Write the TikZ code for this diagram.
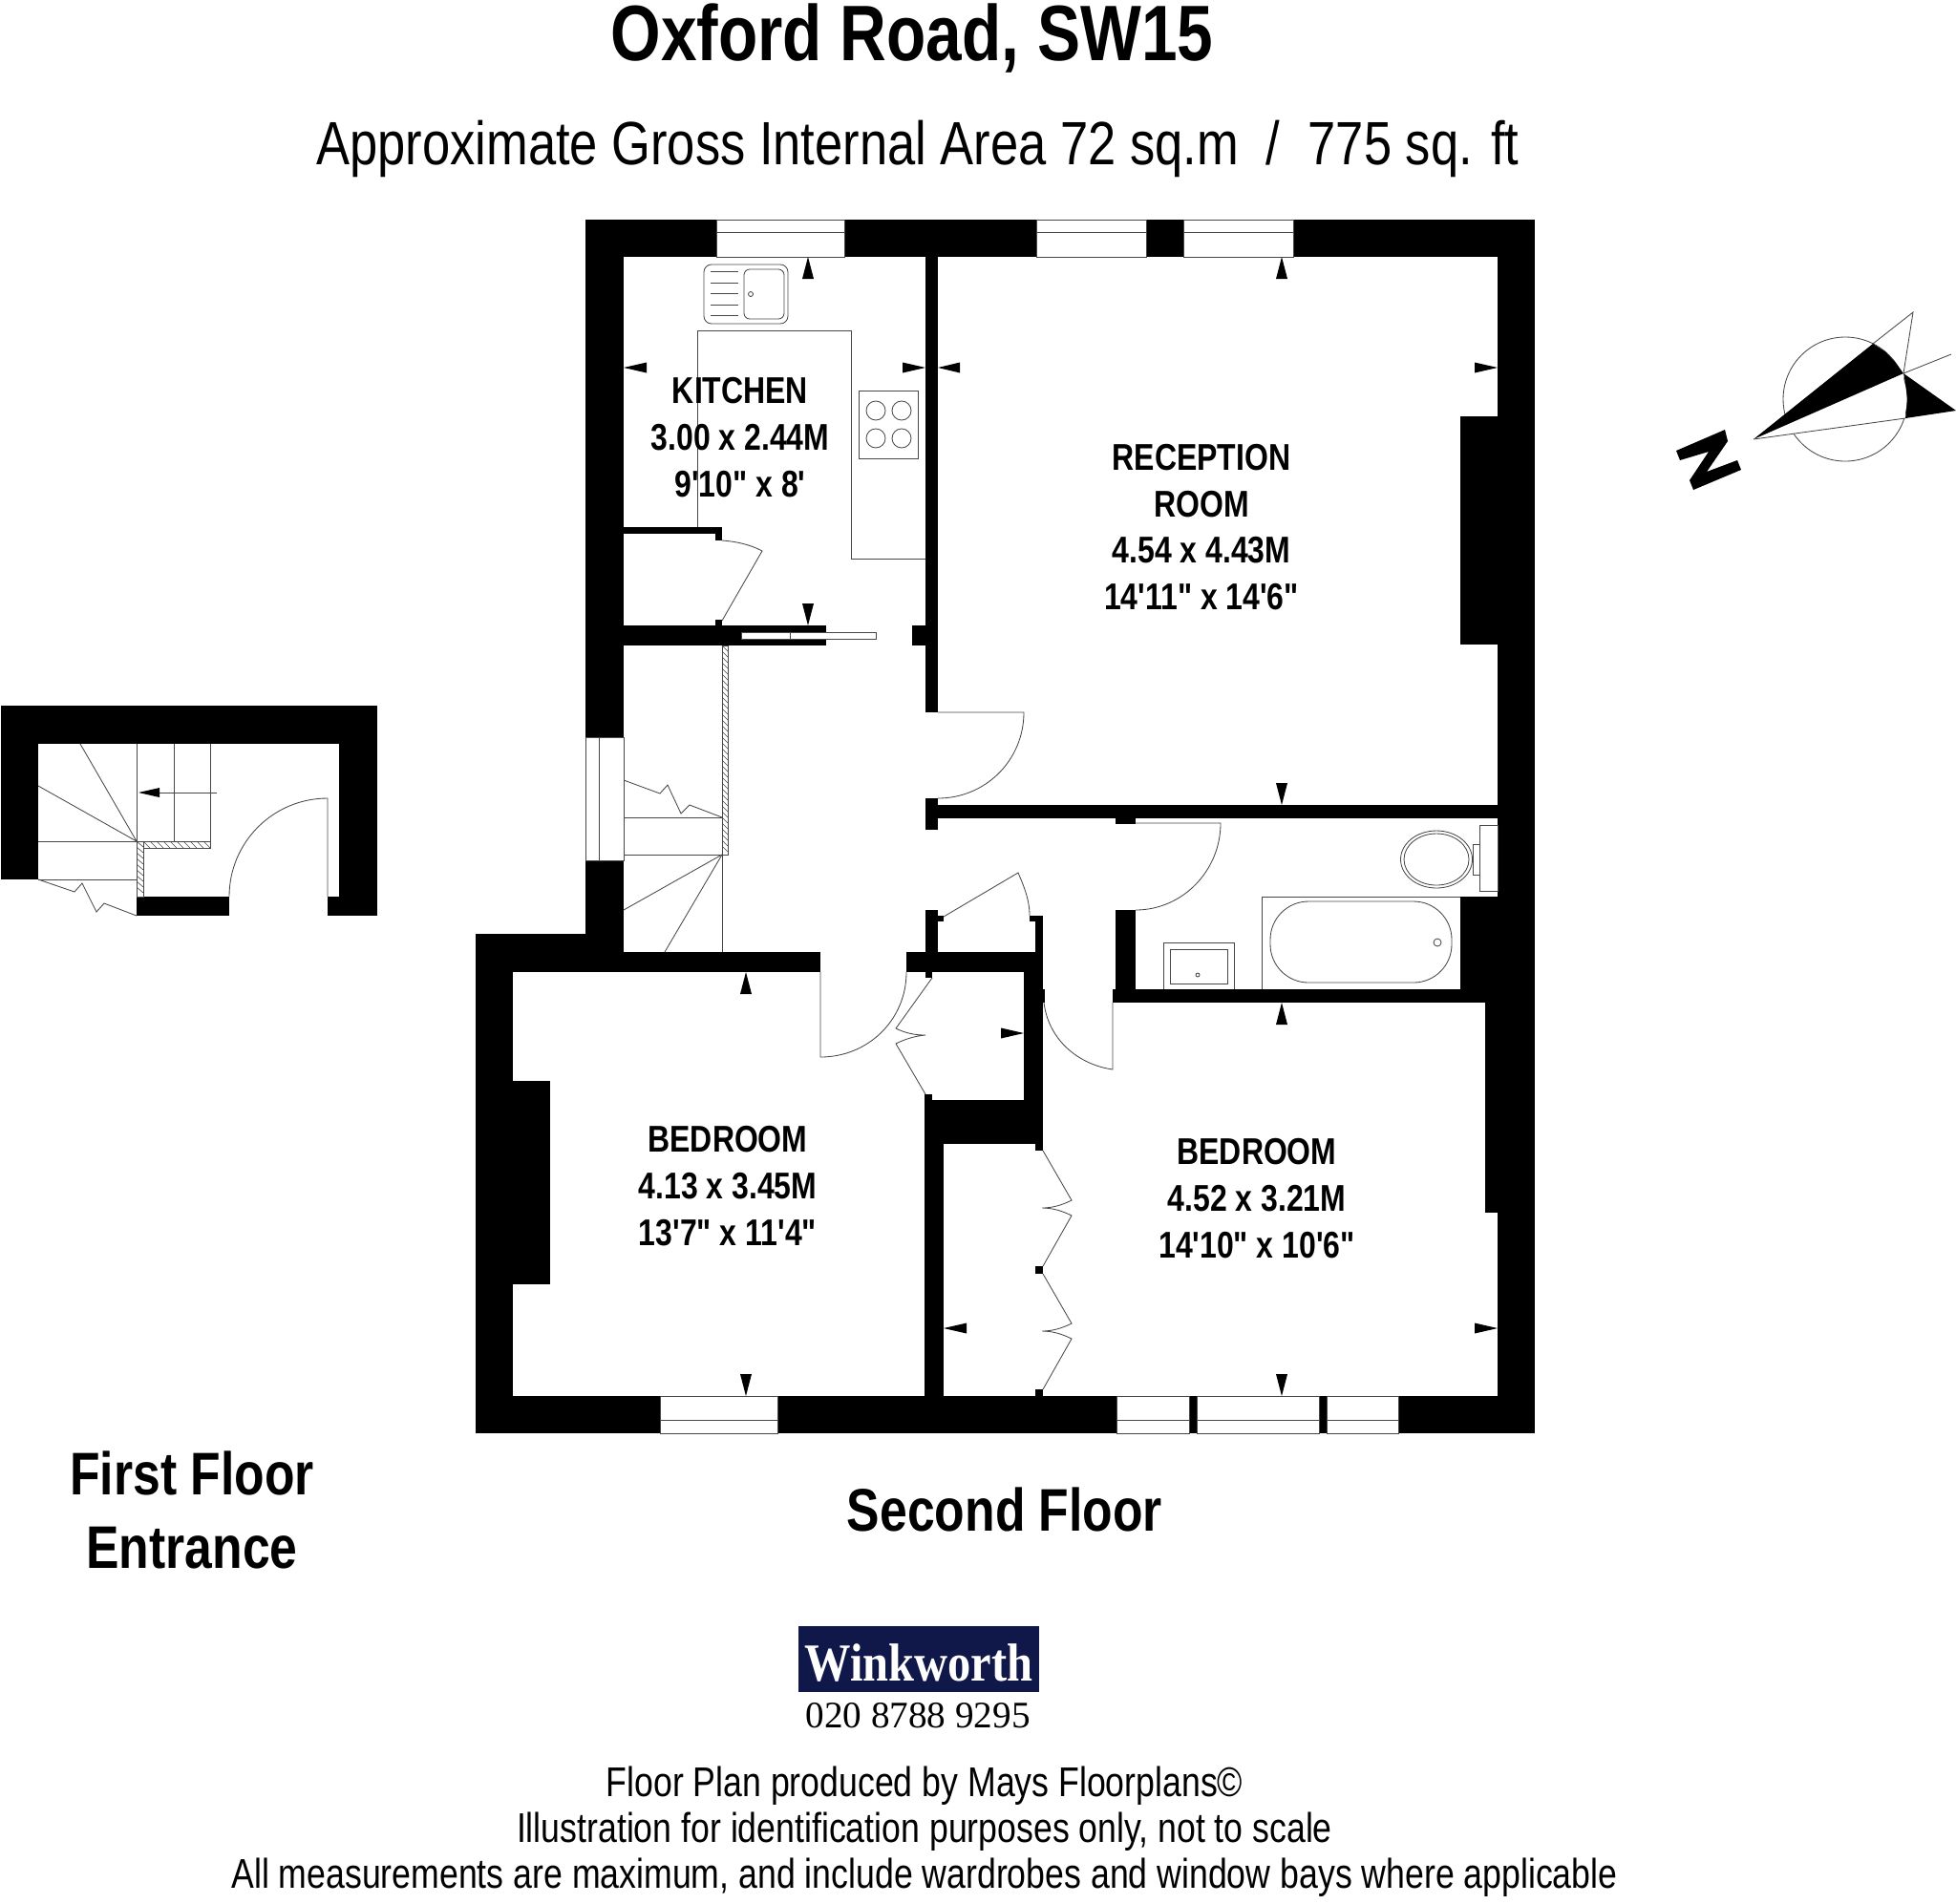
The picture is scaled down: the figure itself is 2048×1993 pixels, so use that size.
\documentclass[tikz,border=0pt]{standalone}
\usepackage{fontspec}
\newfontfamily\narf[FakeStretch=0.82]{Liberation Sans}
\newfontfamily\serf{Liberation Serif}
\newfontfamily\serfn[FakeStretch=0.865]{Liberation Serif}
\newcommand{\wl}[4]{\fill[black] (#1,#2) rectangle (#3,#4);}
\newcommand{\win}[4]{\draw[thin line,fill=white] (#1,#2) rectangle (#3,#4);}
\newcommand{\arru}[3]{\fill[black] (#1,#2) -- (#1-6,#3) -- (#1+6,#3) -- cycle;}
\newcommand{\arrh}[3]{\fill[black] (#2,#1) -- (#3,#1-5.5) -- (#3,#1+5.5) -- cycle;}
\tikzset{
  thin line/.style={draw=black!72,line width=0.42pt},
  room/.style={font=\narf\bfseries\fontsize{19.5}{24.4}\selectfont,align=center,inner sep=0pt},
  floorname/.style={font=\narf\bfseries\fontsize{31.5}{38.5}\selectfont,align=center,inner sep=0pt},
  foot/.style={font=\narf\fontsize{21.75}{24}\selectfont,inner sep=0pt},
}
\begin{document}
\begin{tikzpicture}[x=0.5pt,y=-0.5pt]
\useasboundingbox (0,0) rectangle (2048,1993);
% ---------- kitchen fittings
\draw[thin line] (730,552) -- (730,346) -- (891,346) -- (891,585) -- (969,585);
\draw[thin line,rounded corners=4pt] (737,277) rectangle (825,339);
\draw[thin line,rounded corners=3pt] (779,282) rectangle (821,334);
\foreach \yy in {284,296,307,319,330} \draw[thin line] (744,\yy) -- (773,\yy);
\draw[thin line] (786,308) circle[radius=2.5];
\draw[thin line] (899,409) rectangle (961,480);
\foreach \xx in {917,944} \foreach \yy in {430,459} \draw[thin line] (\xx,\yy) circle[radius=10];
% ---------- walls, second floor
\wl{613}{230}{750}{269} \wl{884}{230}{1085}{269} \wl{1200}{230}{1239}{269} \wl{1354}{230}{1607}{269}
\wl{613}{230}{653}{772} \wl{613}{901}{653}{1018}
\wl{498}{978}{653}{1018} \wl{498}{978}{537}{1501}
\wl{1568}{230}{1607}{1501} \wl{1555}{1050}{1568}{1270} \wl{1529}{939}{1568}{1050}
\wl{1529}{436}{1568}{675} \wl{537}{1132}{576}{1345}
\wl{969}{230}{982}{746} \wl{955}{655}{969}{676}
\wl{653}{655}{865}{676} \wl{749}{649}{756}{655}
\wl{653}{552}{756}{559} \wl{749}{559}{756}{566}
\wl{969}{836}{982}{869} \wl{982}{843}{1568}{857}
\wl{1168}{857}{1189}{863} \wl{1168}{953}{1189}{1036} \wl{1165}{1036}{1568}{1050}
\wl{653}{997}{859}{1018} \wl{949}{997}{1092}{1018}
\wl{969}{953}{982}{1018} \wl{969}{1018}{976}{1024} \wl{982}{959}{988}{965}
\wl{1084}{959}{1092}{997} \wl{1078}{959}{1084}{965}
\wl{1072}{997}{1092}{1197} \wl{1092}{1036}{1094}{1050}
\wl{968}{1152}{1092}{1198} \wl{968}{1146}{976}{1152} \wl{968}{1198}{988}{1462}
\wl{1084}{1198}{1092}{1205} \wl{1084}{1326}{1092}{1334} \wl{1084}{1455}{1092}{1462}
\wl{498}{1462}{691}{1501} \wl{814}{1462}{1169}{1501}
\wl{1245}{1462}{1253}{1501} \wl{1381}{1462}{1389}{1501} \wl{1464}{1462}{1607}{1501}
% ---------- windows
\win{750}{230}{884}{269} \draw[thin line] (750,243) -- (884,243);
\win{1085}{230}{1200}{269} \draw[thin line] (1085,243) -- (1200,243);
\win{1239}{230}{1354}{269} \draw[thin line] (1239,243) -- (1354,243);
\win{613}{772}{653}{901} \draw[thin line] (627,772) -- (627,901);
\win{691}{1462}{814}{1501} \draw[thin line] (691,1487) -- (814,1487);
\win{1169}{1462}{1245}{1501} \draw[thin line] (1169,1487) -- (1245,1487);
\win{1253}{1462}{1381}{1501} \draw[thin line] (1253,1487) -- (1381,1487);
\win{1389}{1462}{1464}{1501} \draw[thin line] (1389,1487) -- (1464,1487);
% sliding door slot
\draw[thin line,fill=white] (776,662) rectangle (917,669);
\draw[thin line] (827,662) -- (827,669);
% ---------- doors
\draw[thin line] (756,566) .. controls (770,567) and (785,570) .. (798,577) -- (756,650);
\draw[thin line] (982,746) -- (1072,746) .. controls (1072,796) and (1032,836) .. (982,836);
\draw[thin line] (1189,862) -- (1278,862) .. controls (1278,912) and (1238,953) .. (1189,953);
\draw[thin line] (859,1018) -- (859,1107) .. controls (909,1107) and (949,1068) .. (949,1018);
\draw[thin line] (1165,1050) -- (1165,1120) .. controls (1130,1115) and (1098,1090) .. (1093,1050);
\draw[thin line] (988,960) -- (1066,914) .. controls (1072,928) and (1078,942) .. (1078,959);
\draw[thin line] (976,1024) -- (938,1077) .. controls (948,1082) and (958,1084) .. (969,1084) .. controls (958,1085) and (948,1088) .. (938,1093) -- (969,1146);
\draw[thin line] (1092,1205) -- (1122,1257) .. controls (1112,1262) and (1102,1265) .. (1091,1265) .. controls (1102,1265) and (1112,1268) .. (1122,1273) -- (1092,1326);
\draw[thin line] (1092,1334) -- (1122,1386) .. controls (1112,1391) and (1102,1394) .. (1091,1394) .. controls (1102,1394) and (1112,1397) .. (1122,1402) -- (1092,1455);
% ---------- stairs, second floor
\draw[thin line] (756,676) rectangle (762,895);
\foreach \yy in {676,682,...,888} \draw[draw=black!72,line width=0.3pt] (756,\yy) -- (762,\yy+6);
\draw[thin line] (653,856) -- (756,856);
\draw[thin line] (653,895) -- (756,895);
\draw[thin line] (756,895) -- (653,953);
\draw[thin line] (756,895) -- (696,997);
\draw[thin line] (756,895) -- (756,997);
\draw[thin line] (653,817) -- (691,831) -- (699,822) -- (713,852) -- (722,843) -- (756,856);
% ---------- bathroom
\draw[thin line] (1321,1036) -- (1321,939) -- (1529,939);
\draw[thin line,rounded corners=20pt] (1330,944) rectangle (1520,1029);
\draw[thin line] (1505,987) circle[radius=4];
\draw[thin line] (1549,864) rectangle (1568,933);
\draw[thin line] (1504,900) ellipse[x radius=37.5,y radius=30];
\draw[thin line] (1504,900) ellipse[x radius=34,y radius=27];
\draw[thin line] (1542,884) -- (1549,884) (1542,916) -- (1549,916) (1542,884) -- (1542,916);
\draw[thin line] (1218,1036) -- (1218,987) -- (1292,987) -- (1292,1036);
\draw[thin line] (1225,994) rectangle (1285,1030);
\draw[thin line] (1254,1021) circle[radius=2];
% ---------- measuring arrows
\arru{846}{269}{292} \arru{1342}{269}{292}
\arru{846}{655}{632} \arru{1342}{843}{820}
\arru{1342}{1050}{1073} \arru{1342}{1462}{1439}
\arru{781}{1018}{1041} \arru{781}{1462}{1439}
\arrh{385}{653}{677} \arrh{385}{969}{945} \arrh{385}{982}{1005} \arrh{385}{1568}{1544}
\arrh{1082}{1072}{1048} \arrh{1391}{988}{1012} \arrh{1391}{1568}{1544}
% ---------- first floor entrance
\wl{1}{739}{395}{779} \wl{1}{739}{40}{921} \wl{355}{739}{395}{959}
\wl{343}{939}{395}{959} \wl{143}{939}{240}{959}
\draw[thin line] (143,779) -- (143,881) (182,779) -- (182,881) (220,779) -- (220,888);
\draw[thin line] (40,881) -- (143,881) (40,921) -- (143,921);
\draw[thin line] (143,881) -- (84,779) (143,881) -- (40,823);
\draw[thin line] (143,881) rectangle (150,939);
\draw[thin line] (150,881) rectangle (220,888);
\foreach \yy in {881,887,...,933} \draw[draw=black!72,line width=0.3pt] (143,\yy) -- (150,\yy+6);
\foreach \xx in {150,157,...,213} \draw[draw=black!72,line width=0.3pt] (\xx,881) -- (\xx+7,888);
\draw[thin line] (40,921) -- (78,934) -- (86,925) -- (101,955) -- (109,946) -- (143,959);
\draw[thin line] (227,830) -- (160,830);
\fill[black] (145,830) -- (167,825) -- (167,835) -- cycle;
\draw[thin line] (343,939) -- (343,836) .. controls (286,836) and (240,882) .. (240,939);
% ---------- compass
\draw[thin line] (1932,418) circle[radius=65];
\fill[white] (1836,460) -- (1993,391) -- (1995,438) -- cycle;
\fill[black] (1836,460) -- (1961,360) -- (1973.8,368.2) -- (1983.9,378.9) -- (1993,391) -- cycle;
\fill[black] (1993,391) -- (2048,430) -- (1995,438) -- (1996.2,428.2) -- (1997,418) -- (1995.6,404.5) -- cycle;
\draw[thin line] (1961,360) -- (2003,327) -- (1993,391) -- (2043,371);
\draw[thin line] (1836,460) -- (1995,438);
\fill[black] (1755,472) -- (1806,450) -- (1809,462) -- (1787,494) -- (1819,482) -- (1823,492) -- (1773,513) -- (1769,503) -- (1789,473) -- (1759,482) -- cycle;
% ---------- texts
\node[inner sep=0pt,font=\narf\bfseries\fontsize{41.2}{44}\selectfont] (title) at (955,40) {Oxford Road, SW15};
\node[inner sep=0pt,font=\narf\fontsize{32}{36}\selectfont] (subtitle) at (961,156) {Approximate Gross Internal Area 72 sq.m\ \ /\ \ 775 sq. ft};
\node[room] (kitchen) at (775,458) {KITCHEN\\3.00 x 2.44M\\9'10" x 8'};
\node[room] (reception) at (1258,552) {RECEPTION\\ROOM\\4.54 x 4.43M\\14'11" x 14'6"};
\node[room] (bed1) at (762,1242) {BEDROOM\\4.13 x 3.45M\\13'7" x 11'4"};
\node[room] (bed2) at (1316,1255) {BEDROOM\\4.52 x 3.21M\\14'10" x 10'6"};
\node[floorname] (first) at (201,1581) {First Floor\\Entrance};
\node[floorname] (second) at (1052,1581) {Second Floor};
\fill[fill={rgb,255:red,16;green,24;blue,74}] (836,1703) rectangle (1088,1772);
\node[inner sep=0pt,text=white,font=\serfn\bfseries\fontsize{28}{30}\selectfont] (wink) at (962,1741) {Winkworth};
\node[inner sep=0pt,font=\serf\fontsize{19.6}{24}\selectfont] (phone) at (961,1797) {020 8788 9295};
\node[foot] (f1) at (968,1870) {Floor Plan produced by Mays Floorplans©};
\node[foot] (f2) at (968,1918) {Illustration for identification purposes only, not to scale};
\node[foot] (f3) at (968,1966) {All measurements are maximum, and include wardrobes and window bays where applicable};
\end{tikzpicture}
\end{document}
